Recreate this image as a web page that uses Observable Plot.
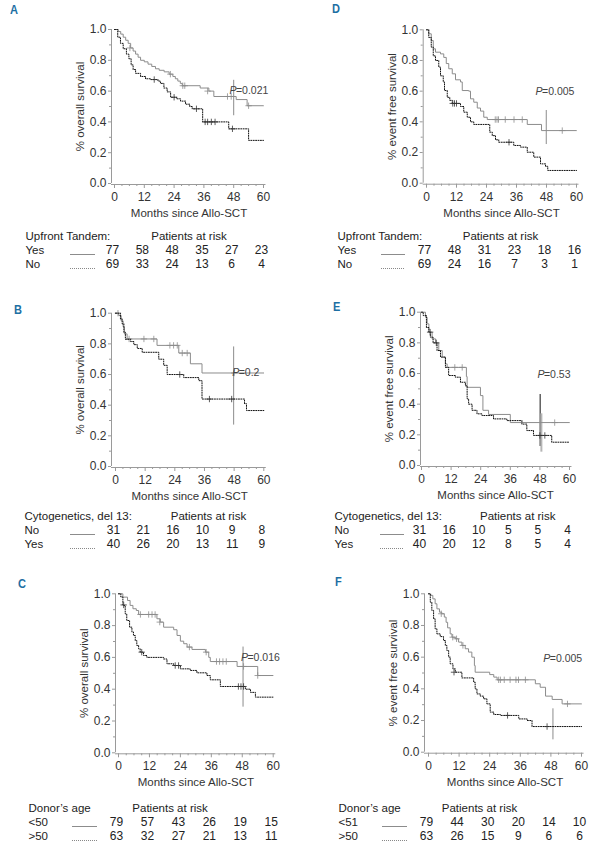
<!DOCTYPE html>
<html><head><meta charset="utf-8">
<script src="https://cdn.jsdelivr.net/npm/d3@7"></script>
<script src="https://cdn.jsdelivr.net/npm/@observablehq/plot@0.6"></script>
<style>
body{margin:0;background:#fff;}
#fig{position:relative;width:593px;height:847px;overflow:hidden;background:#fff;}
.panel{position:absolute;width:293px;height:295px;}
.letter{position:absolute;font:bold 13px "Liberation Sans",Arial,sans-serif;color:#1d6fa3;line-height:13px;transform:scaleX(0.85);transform-origin:left top;}
</style></head>
<body><div id="fig"></div>
<script>
// ---------- shared ticks ----------
const tickMonths = [0, 12, 24, 36, 48, 60];
const yTicks = [0, 0.2, 0.4, 0.6, 0.8, 1.0];

// ---------- Panel A: overall survival by upfront tandem ----------
const aYes = [[0,1],[1.5,0.987],[2.5,0.97],[3.5,0.95],[4.5,0.93],[5.5,0.91],[6.5,0.88],[7.5,0.86],[8.5,0.84],[9.5,0.82],[10.5,0.80],[12,0.79],[13.5,0.775],[15,0.76],[16.5,0.745],[18,0.735],[20,0.725],[22,0.71],[23.5,0.695],[24.5,0.68],[25.5,0.665],[26.5,0.65],[27.3,0.635],[34.5,0.62],[38,0.60],[40,0.565],[49,0.545],[53.4,0.505],[60,0.505]];
const aNo = [[0,1],[1.3,0.95],[2.4,0.91],[3.5,0.875],[4.8,0.84],[5.8,0.81],[6.7,0.77],[7.5,0.74],[8.5,0.715],[10.5,0.695],[12.5,0.68],[14.5,0.675],[17.5,0.665],[18.5,0.65],[19.9,0.62],[21.2,0.595],[22.6,0.56],[25,0.55],[26.6,0.535],[28.6,0.515],[30.3,0.50],[31.3,0.485],[35.5,0.40],[46,0.355],[54,0.28],[60,0.28]];
const aYesCens = [[6.2,0.88],[22.5,0.71],[27.5,0.635],[28.3,0.635],[37.5,0.60],[45.5,0.565],[47,0.565],[54,0.505]];
const aNoCens = [[16,0.675],[24,0.56],[33,0.485],[36.5,0.40],[37.5,0.40],[39,0.40],[40.5,0.40],[47.5,0.355]];
const aRiskYes = [77, 58, 48, 35, 27, 23];
const aRiskNo = [69, 33, 24, 13, 6, 4];

// ---------- Panel D: event free survival by upfront tandem ----------
const dYes = [[0,1],[0.9,0.974],[1.9,0.93],[2.7,0.876],[3.6,0.854],[5.6,0.843],[6.9,0.82],[7.9,0.78],[8.9,0.746],[10.3,0.713],[11.6,0.674],[13.6,0.66],[14.3,0.604],[16.9,0.60],[17.6,0.55],[18.9,0.528],[20.3,0.49],[21.6,0.47],[22.9,0.43],[24.3,0.415],[40.3,0.383],[46,0.343],[60,0.343]];
const dNo = [[0,1],[0.9,0.95],[1.9,0.887],[2.7,0.83],[3.6,0.80],[4.9,0.757],[5.6,0.70],[6.7,0.66],[7.2,0.604],[8.3,0.56],[9.3,0.54],[10.3,0.52],[13.6,0.50],[14.9,0.463],[16.3,0.43],[17.6,0.40],[18.9,0.383],[25.3,0.333],[26.3,0.31],[27.6,0.283],[28.9,0.267],[34.9,0.246],[37.6,0.235],[40.3,0.202],[42.9,0.17],[45.6,0.126],[47.6,0.11],[48.5,0.083],[60,0.083]];
const dYesCens = [[27.5,0.415],[28.2,0.415],[28.8,0.415],[31.5,0.415],[35,0.415],[38.3,0.415],[54.3,0.343]];
const dNoCens = [[10.5,0.52],[11.2,0.52],[12,0.52],[33,0.267]];
const dRiskYes = [77, 48, 31, 23, 18, 16];
const dRiskNo = [69, 24, 16, 7, 3, 1];

// ---------- Panel B: overall survival by del 13 ----------
const bNo = [[0,1],[1.3,0.985],[2.3,0.95],[3.1,0.91],[3.6,0.865],[4.7,0.832],[16.8,0.79],[25.6,0.74],[30.3,0.67],[35,0.61],[60,0.61]];
const bYes = [[0,1],[2,0.963],[2.7,0.93],[3.4,0.876],[4,0.83],[6.1,0.815],[7.4,0.795],[8.8,0.77],[10.8,0.745],[17.5,0.70],[19.5,0.66],[20.9,0.60],[27.6,0.58],[33.7,0.56],[35,0.44],[52.2,0.41],[53,0.365],[60,0.365]];
const bNoCens = [[1,1],[5.5,0.832],[11.5,0.832],[15.5,0.832],[22,0.79],[23.5,0.79],[25,0.79],[27,0.74],[29,0.74],[48,0.61]];
const bYesCens = [[26,0.60],[38,0.44],[47,0.44]];
const bRiskNo = [31, 21, 16, 10, 9, 8];
const bRiskYes = [40, 26, 20, 13, 11, 9];

// ---------- Panel E: event free survival by del 13 ----------
const eNo = [[0,1],[1.6,0.967],[2.3,0.924],[3,0.87],[4.3,0.826],[5.7,0.80],[7,0.75],[8.4,0.707],[9.7,0.663],[10.4,0.64],[18.2,0.58],[18.5,0.51],[23.9,0.456],[24.9,0.36],[27.2,0.333],[36,0.28],[60,0.28]];
const eYes = [[0,1],[0.7,0.978],[2,0.90],[3,0.87],[3.6,0.837],[4.7,0.80],[6.3,0.75],[7.7,0.707],[9.7,0.64],[11,0.587],[13.7,0.576],[15.8,0.543],[17.8,0.52],[18.5,0.435],[19.1,0.40],[20.5,0.36],[22.5,0.337],[24.5,0.326],[29.2,0.304],[34.6,0.293],[40.7,0.27],[42.7,0.228],[45.4,0.196],[52.8,0.152],[60,0.152]];
const eNoCens = [[13.5,0.64],[16.5,0.64],[54,0.28]];
const eYesCens = [[3.5,0.87],[6,0.80],[48,0.196],[50,0.196]];
const eRiskNo = [31, 16, 10, 5, 5, 4];
const eRiskYes = [40, 20, 12, 8, 5, 4];

// ---------- Panel C: overall survival by donor age ----------
const cYoung = [[0,1],[1.7,0.979],[3.5,0.958],[4.5,0.927],[5.6,0.906],[6.9,0.895],[7.8,0.87],[14.9,0.843],[16.2,0.822],[17.5,0.79],[21.4,0.774],[22.7,0.738],[24,0.702],[25.3,0.686],[26.6,0.665],[28.5,0.65],[33.7,0.633],[35,0.60],[35.6,0.574],[46,0.543],[54,0.486],[60,0.486]];
const cOld = [[0,1],[0.9,0.98],[1.7,0.927],[2.6,0.874],[3.2,0.832],[4.3,0.79],[5.2,0.76],[5.8,0.738],[6.5,0.706],[7.1,0.675],[7.8,0.654],[8.4,0.633],[9.7,0.612],[11,0.60],[17.5,0.59],[18.8,0.56],[21.4,0.549],[24,0.528],[27.8,0.518],[30.4,0.503],[34.3,0.486],[35.6,0.459],[39.5,0.417],[49.2,0.40],[51.2,0.38],[53.1,0.35],[60,0.35]];
const cYoungCens = [[8.5,0.87],[11.7,0.87],[13,0.87],[14.2,0.87],[16,0.822],[27.5,0.665],[34,0.633],[38,0.574],[39.2,0.574],[40.5,0.574],[41.8,0.574],[48.5,0.543],[54,0.486]];
const cOldCens = [[2,0.93],[9,0.633],[22,0.549],[23.3,0.549],[46.5,0.417],[47.5,0.417],[48.5,0.417]];
const cRiskYoung = [79, 57, 43, 26, 19, 15];
const cRiskOld = [63, 32, 27, 21, 13, 11];

// ---------- Panel F: event free survival by donor age ----------
const fYoung = [[0,1],[0.9,0.99],[1.7,0.968],[2.6,0.937],[3.3,0.905],[4.3,0.884],[5.2,0.874],[6.2,0.853],[6.9,0.82],[7.5,0.785],[8.5,0.747],[9.2,0.726],[10.5,0.716],[11.8,0.695],[13.1,0.674],[14.4,0.653],[15.7,0.632],[17,0.60],[18,0.547],[18.3,0.505],[24,0.49],[25.6,0.474],[26.9,0.457],[41.9,0.432],[43.8,0.41],[45.9,0.354],[48.5,0.333],[52.4,0.305],[60,0.305]];
const fOld = [[0,1],[0.7,0.947],[1.3,0.895],[2,0.842],[2.6,0.779],[3.3,0.747],[4.6,0.73],[5.9,0.705],[6.6,0.674],[7.2,0.642],[7.9,0.60],[8.5,0.558],[9.6,0.526],[10.5,0.505],[13.1,0.469],[17.7,0.442],[18.3,0.40],[19,0.368],[20.3,0.354],[21.6,0.337],[22.9,0.305],[24.2,0.253],[25.6,0.238],[28.2,0.232],[35.4,0.21],[38.7,0.20],[40.6,0.162],[60,0.162]];
const fYoungCens = [[5,0.874],[9.5,0.726],[11,0.716],[13.5,0.674],[27.5,0.457],[28.2,0.457],[29.7,0.457],[32,0.457],[34.3,0.457],[35.3,0.457],[38,0.457],[54.5,0.305]];
const fOldCens = [[10,0.505],[31,0.232],[46.5,0.162]];
const fRiskYoung = [79, 44, 30, 20, 14, 10];
const fRiskOld = [63, 26, 15, 9, 6, 6];

// ---------- p values and confidence bars (month, low, high) ----------
const pValues = {A: "0.021", D: "0.005", B: "0.2", E: "0.53", C: "0.016", F: "0.005"};
const ciA = [48, 0.44, 0.67];
const ciD = [47.9, 0.252, 0.474];
const ciB = [47.8, 0.27, 0.78];
const ciE1 = [48.1, 0.124, 0.463];
const ciE2 = [48.6, 0.087, 0.337];
const ciC = [48.3, 0.287, 0.665];
const ciF = [48.8, 0.078, 0.274];

// ---------- layout ----------
const FONT = '"Liberation Sans",Arial,sans-serif';
const GRAY = "#8c8c8c", BLACK = "#111", AXIS = "#9a9a9a", TEXT = "#333";
const solid = {stroke: GRAY, strokeWidth: 1};
const dotted = {stroke: BLACK, strokeWidth: 1, strokeDasharray: "1,1.4"};

const panels = [
  {id:"A", ox:0, oy:0, x0:114, x60:263, top:29, bottom:183, axisX:111, letter:[10,3],
   ytitle:"% overall survival", group:"Upfront Tandem:", labelX:25, sample:[70,95], headerAt:30, rowsY:[235,264],
   series:[{name:"Yes", steps:aYes, cens:aYesCens, risk:aRiskYes, st:solid},{name:"No", steps:aNo, cens:aNoCens, risk:aRiskNo, st:dotted}],
   p:{x:46.3, y:0.60}, ci:[{v:ciA, st:solid}]},
  {id:"D", ox:300, oy:0, x0:126, x60:276, top:29.3, bottom:182.7, axisX:122.7, letter:[32,2],
   ytitle:"% event free survival", group:"Upfront Tandem:", labelX:37, sample:[81,105], headerAt:29.6, rowsY:[235,264],
   series:[{name:"Yes", steps:dYes, cens:dYesCens, risk:dRiskYes, st:solid},{name:"No", steps:dNo, cens:dNoCens, risk:dRiskNo, st:dotted}],
   p:{x:43.6, y:0.60}, ci:[{v:ciD, st:solid}]},
  {id:"B", ox:0, oy:270, x0:115, x60:263.3, top:42.7, bottom:196, axisX:111, letter:[14,33],
   ytitle:"% overall survival", group:"Cytogenetics, del 13:", labelX:24, sample:[70,95], headerAt:37.6, rowsY:[246,274],
   series:[{name:"No", steps:bNo, cens:bNoCens, risk:bRiskNo, st:solid},{name:"Yes", steps:bYes, cens:bYesCens, risk:bRiskYes, st:dotted}],
   p:{x:47.2, y:0.61}, ci:[{v:ciB, st:solid}]},
  {id:"E", ox:300, oy:270, x0:121, x60:269, top:41.7, bottom:195, axisX:120, letter:[33,30],
   ytitle:"% event free survival", group:"Cytogenetics, del 13:", labelX:34, sample:[80,104], headerAt:39, rowsY:[246,274],
   series:[{name:"No", steps:eNo, cens:eNoCens, risk:eRiskNo, st:solid},{name:"Yes", steps:eYes, cens:eYesCens, risk:eRiskYes, st:dotted}],
   p:{x:47, y:0.59}, ci:[{v:ciE1, st:{stroke:BLACK, strokeWidth:1}},{v:ciE2, st:{stroke:"#b5b5b5", strokeWidth:2}}]},
  {id:"C", ox:0, oy:550, x0:118, x60:272.7, top:43.3, bottom:202.3, axisX:115, letter:[18,27],
   ytitle:"% overall survival", group:"Donor\u2019s age", labelX:28, sample:[72,97], headerAt:20, rowsY:[258,286],
   series:[{name:"<50", steps:cYoung, cens:cYoungCens, risk:cRiskYoung, st:solid},{name:">50", steps:cOld, cens:cOldCens, risk:cRiskOld, st:dotted}],
   p:{x:47.5, y:0.60}, ci:[{v:ciC, st:solid}]},
  {id:"F", ox:300, oy:550, x0:128, x60:281, top:43.3, bottom:201.7, axisX:124, letter:[35,25],
   ytitle:"% event free survival", group:"Donor\u2019s age", labelX:38, sample:[82,107], headerAt:20, rowsY:[258,286],
   series:[{name:"<51", steps:fYoung, cens:fYoungCens, risk:fRiskYoung, st:solid},{name:">50", steps:fOld, cens:fOldCens, risk:fRiskOld, st:dotted}],
   p:{x:45, y:0.59}, ci:[{v:ciF, st:solid}]}
];

const W = 293, H = 295;
const fig = document.getElementById("fig");
const svgStyle = {background:"transparent", overflow:"visible", position:"absolute", left:"0px", top:"0px", fontFamily:FONT, fontSize:"11px"};
const TFS = 11.5;

for (const cfg of panels) {
  const div = document.createElement("div");
  div.className = "panel";
  div.style.left = cfg.ox + "px";
  div.style.top = cfg.oy + "px";
  const inv = px => (px - cfg.x0) * 60 / (cfg.x60 - cfg.x0);
  const shift = cfg.axisX - cfg.x0;

  const marks = [
    Plot.ruleX([0], {y1: 0, y2: 1, dx: shift, stroke: AXIS}),
    Plot.ruleY([0], {x1: () => inv(cfg.axisX), x2: () => 61, dy: 1, stroke: AXIS}),
    Plot.axisY(yTicks, {anchor: "left", dx: shift, tickSize: 3, tickPadding: 2, tickFormat: d3.format(".1f"), stroke: AXIS, fill: TEXT, fontSize: 12, label: null}),
    Plot.axisY(d3.range(0.1, 1, 0.2), {anchor: "left", dx: shift, tickSize: 2, stroke: AXIS, fill: "none", label: null}),
    Plot.axisX(tickMonths, {anchor: "bottom", dy: 1, tickSize: 4, tickPadding: 4, stroke: AXIS, fill: TEXT, fontSize: 12, label: null}),
    Plot.axisX(d3.range(3, 60, 3).filter(d => d % 12), {anchor: "bottom", dy: 1, tickSize: 2, stroke: AXIS, fill: "none", label: null}),
    Plot.text([cfg.ytitle], {text: d => d, frameAnchor: "left", rotate: -90, textAnchor: "middle", lineAnchor: "middle", dx: cfg.axisX - 31 - cfg.x0, fill: TEXT, fontSize: 11.5}),
    Plot.text(["Months since Allo-SCT"], {text: d => d, frameAnchor: "bottom", lineAnchor: "middle", dy: 30, fill: TEXT, fontSize: 11.5})
  ];
  for (const c of cfg.ci) {
    marks.push(Plot.ruleX([c.v], {x: d => d[0], y1: d => d[1], y2: d => d[2], ...c.st}));
  }
  for (const s of cfg.series) {
    marks.push(Plot.line(s.steps, {x: d => d[0], y: d => d[1], curve: "step-after", ...s.st}));
    marks.push(Plot.dot(s.cens, {x: d => d[0], y: d => d[1], symbol: "plus", r: 2.2, stroke: s.st === solid ? GRAY : "#333", strokeWidth: 0.8}));
  }
  marks.push(Plot.text([cfg.p], {x: d => d.x, y: d => d.y, text: () => "P", fontStyle: "italic", textAnchor: "start", fill: "#444", fontSize: 10.5}));
  marks.push(Plot.text([cfg.p], {x: d => d.x, y: d => d.y, text: () => "=" + pValues[cfg.id], dx: 6.5, textAnchor: "start", fill: "#444", fontSize: 10.5}));

  const km = Plot.plot({
    width: W, height: H,
    marginLeft: cfg.x0, marginRight: W - cfg.x60, marginTop: cfg.top, marginBottom: H - cfg.bottom,
    x: {domain: [0, 60]}, y: {domain: [0, 1]},
    style: svgStyle,
    marks
  });

  // risk table
  const rows = ["__head", ...cfg.series.map(s => s.name)];
  const nums = cfg.series.flatMap(s => s.risk.map((n, i) => ({g: s.name, m: tickMonths[i], n})));
  const tmarks = [
    Plot.text([cfg.group], {x: () => inv(cfg.labelX), y: () => "__head", text: d => d, textAnchor: "start", fill: "#222", fontSize: TFS}),
    Plot.text(["Patients at risk"], {x: () => cfg.headerAt, y: () => "__head", text: d => d, fill: "#222", fontSize: TFS}),
    Plot.text(cfg.series, {x: () => inv(cfg.labelX), y: s => s.name, text: s => s.name, textAnchor: "start", fill: "#222", fontSize: TFS}),
    Plot.text(nums, {x: "m", y: "g", text: d => String(d.n), dx: -2, fill: "#222", fontSize: 12})
  ];
  for (const s of cfg.series) {
    tmarks.push(Plot.ruleY([s.name], {y: d => d, x1: () => inv(cfg.sample[0]), x2: () => inv(cfg.sample[1]), dy: 4, strokeWidth: 1,
      stroke: s.st === solid ? GRAY : "#888", strokeDasharray: s.st === solid ? null : "1,1"}));
  }
  const table = Plot.plot({
    width: W, height: H,
    marginLeft: cfg.x0, marginRight: W - cfg.x60, marginTop: 0, marginBottom: 0,
    x: {domain: [0, 60], axis: null},
    y: {type: "point", domain: rows, range: cfg.rowsY, padding: 0, axis: null},
    style: svgStyle,
    marks: tmarks
  });

  const letter = document.createElement("div");
  letter.className = "letter";
  letter.textContent = cfg.id;
  letter.style.left = cfg.letter[0] + "px";
  letter.style.top = cfg.letter[1] + "px";

  div.appendChild(km);
  div.appendChild(table);
  div.appendChild(letter);
  fig.appendChild(div);
}
</script></body></html>
